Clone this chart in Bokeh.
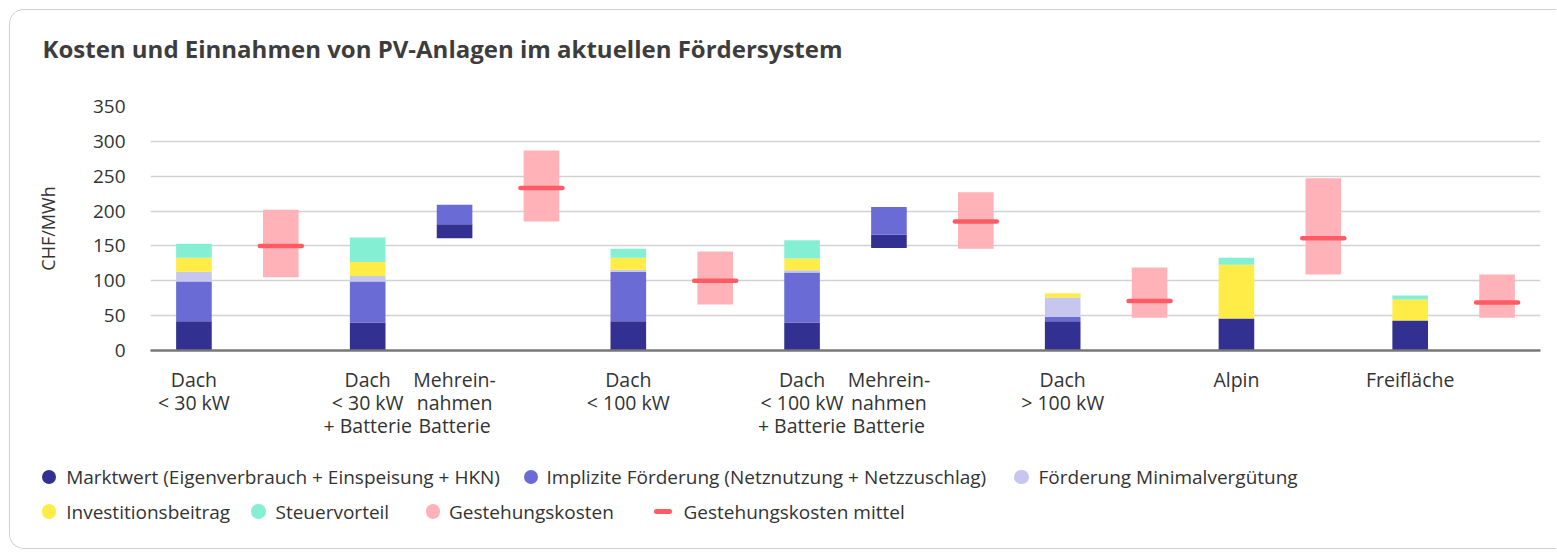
import numpy as np
from bokeh.plotting import figure
from bokeh.layouts import column
from bokeh.models import ColumnDataSource, FixedTicker, Title, Div
from bokeh.embed import file_html
from bokeh.resources import INLINE

# ---------------- data ----------------
bar_pos = [0, 2, 3, 5, 7, 8, 10, 12, 14]
bar_labels = ["Dach\n< 30 kW", "Dach\n< 30 kW\n+ Batterie", "Mehrein-\nnahmen\nBatterie",
              "Dach\n< 100 kW", "Dach\n< 100 kW\n+ Batterie", "Mehrein-\nnahmen\nBatterie",
              "Dach\n> 100 kW", "Alpin", "Freifläche"]
base = [0, 0, 161, 0, 0, 147, 0, 0, 0]
marktwert = [42, 40, 20, 42, 40, 19, 42, 46, 43]
implizit = [57, 59, 28, 71, 72, 40, 6, 0, 0]
minimal = [14, 8, 0, 3, 3, 0, 28, 0, 0]
invest = [20, 20, 0, 17, 17, 0, 6, 77, 30]
steuer = [20, 35, 0, 13, 26, 0, 0, 10, 6]

gest_pos = [1, 4, 6, 9, 11, 13, 15]
gest_low = [105, 185, 66, 146, 47, 109, 47]
gest_high = [202, 287, 142, 227, 119, 247, 109]
gest_mean = [150, 233, 100, 185, 71, 161, 69]

series_names = ["Marktwert (Eigenverbrauch + Einspeisung + HKN)",
                "Implizite Förderung (Netznutzung + Netzzuschlag)",
                "Förderung Minimalvergütung", "Investitionsbeitrag", "Steuervorteil"]
colors = ["#323192", "#6b6bd6", "#c6c6ee", "#ffec46", "#84efd2"]
pink = "#ffb3b8"
red = "#ff5b64"

FONT = "Open Sans"
TXT = "#333333"
W = 1546

p = figure(width=W, height=435, x_range=(-0.5, 15.5), y_range=(0, 350),
           output_backend="svg", toolbar_location=None,
           min_border_left=140, min_border_top=96, min_border_right=16, min_border_bottom=95)
p.outline_line_color = None
p.background_fill_color = "white"
p.border_fill_color = "white"

# stacked bars
stack = [marktwert, implizit, minimal, invest, steuer]
bottom = np.array(base, dtype=float)
for vals, col in zip(stack, colors):
    top = bottom + np.array(vals, dtype=float)
    src = ColumnDataSource(dict(x=bar_pos, b=bottom.copy(), t=top.copy()))
    p.vbar(x="x", bottom="b", top="t", width=0.41, source=src,
           fill_color=col, line_color=None)
    bottom = top

# Gestehungskosten boxes + mean
gsrc = ColumnDataSource(dict(x=gest_pos, lo=gest_low, hi=gest_high, m=gest_mean))
p.vbar(x="x", bottom="lo", top="hi", width=0.41, source=gsrc, fill_color=pink, line_color=None)
p.scatter(x="x", y="m", source=gsrc, marker="dash", size=42, line_width=4.5,
          line_color=red, line_cap="round")

# axes
p.xgrid.grid_line_color = None
p.ygrid.grid_line_color = "#d2d2d2"
p.ygrid.grid_line_width = 1.5
p.yaxis.ticker = FixedTicker(ticks=list(range(0, 351, 50)))
p.xaxis.ticker = FixedTicker(ticks=bar_pos)
p.xaxis.major_label_overrides = {pos: lab for pos, lab in zip(bar_pos, bar_labels)}
for ax in (p.xaxis, p.yaxis):
    ax.major_tick_line_color = None
    ax.minor_tick_line_color = None
    ax.major_label_text_font = FONT
    ax.major_label_text_color = TXT
p.xaxis.major_label_text_font_size = "19.5px"
p.yaxis.major_label_text_font_size = "19px"
p.yaxis.axis_line_color = None
p.yaxis.major_label_standoff = 19
p.yaxis.axis_label = "CHF/MWh"
p.yaxis.axis_label_text_font = FONT
p.yaxis.axis_label_text_font_size = "18px"
p.yaxis.axis_label_text_font_style = "normal"
p.yaxis.axis_label_text_color = TXT
p.yaxis.axis_label_standoff = 30
p.xaxis.axis_line_color = "#777777"
p.xaxis.axis_line_width = 2.5
p.xaxis.major_label_standoff = 9
p.xaxis.major_label_text_line_height = 0.866

# title: spacer next to the frame, real title outside it
p.add_layout(Title(text=" ", text_font_size="10px", standoff=29), "above")
p.add_layout(Title(text="Kosten und Einnahmen von PV-Anlagen im aktuellen Fördersystem",
                   text_font=FONT, text_font_size="24px", text_font_style="bold",
                   text_color="#3d3d3d", align="left", offset=-108, standoff=0), "above")

# ---------------- legend (HTML) ----------------
legend_rows = [
    [("circle", colors[0], series_names[0], 49.7, 66.7),
     ("circle", colors[1], series_names[1], 531.5, 547),
     ("circle", colors[2], series_names[2], 1022, 1039)],
    [("circle", colors[3], series_names[3], 49.7, 66.7),
     ("circle", colors[4], series_names[4], 259, 276),
     ("circle", pink, "Gestehungskosten", 433.5, 449.5),
     ("line", red, "Gestehungskosten mittel", 663, 684)],
]
row_y = [477.7, 512]
X0, Y0 = 10.5, 445.5
parts = []
for row, cy in zip(legend_rows, row_y):
    for kind, col, lab, mx, tx in row:
        if kind == "circle":
            parts.append(f'<span style="position:absolute;left:{mx - 7.3 - X0:.1f}px;top:{cy - 7.3 - Y0:.1f}px;'
                         f'width:14.6px;height:14.6px;border-radius:50%;background:{col};"></span>')
        else:
            parts.append(f'<span style="position:absolute;left:{mx - 9 - X0:.1f}px;top:{cy - 2.5 - Y0:.1f}px;'
                         f'width:18px;height:5px;border-radius:2.5px;background:{col};"></span>')
        parts.append(f'<span style="position:absolute;left:{tx - X0:.1f}px;top:{cy - 13 - Y0:.1f}px;'
                     f'line-height:26px;white-space:nowrap;">{lab}</span>')
html = (f'<div style="position:relative;width:{W}px;height:103px;font-family:\'Open Sans\';'
        f'font-size:19px;color:{TXT};">' + "".join(parts) + '</div>')
leg = Div(text=html, width=W, height=103, margin=(0, 0, 0, 0))

layout = column(p, leg, spacing=0)
layout.styles = {"margin-left": "9px", "margin-top": "9px",
                 "border-top": "1.5px solid #cfcfcf", "border-left": "1.5px solid #cfcfcf",
                 "border-bottom": "1.5px solid #cfcfcf",
                 "border-top-left-radius": "15px", "border-bottom-left-radius": "15px",
                 "background-color": "white", "overflow": "hidden"}

open("out.html", "w").write(file_html(layout, INLINE))
